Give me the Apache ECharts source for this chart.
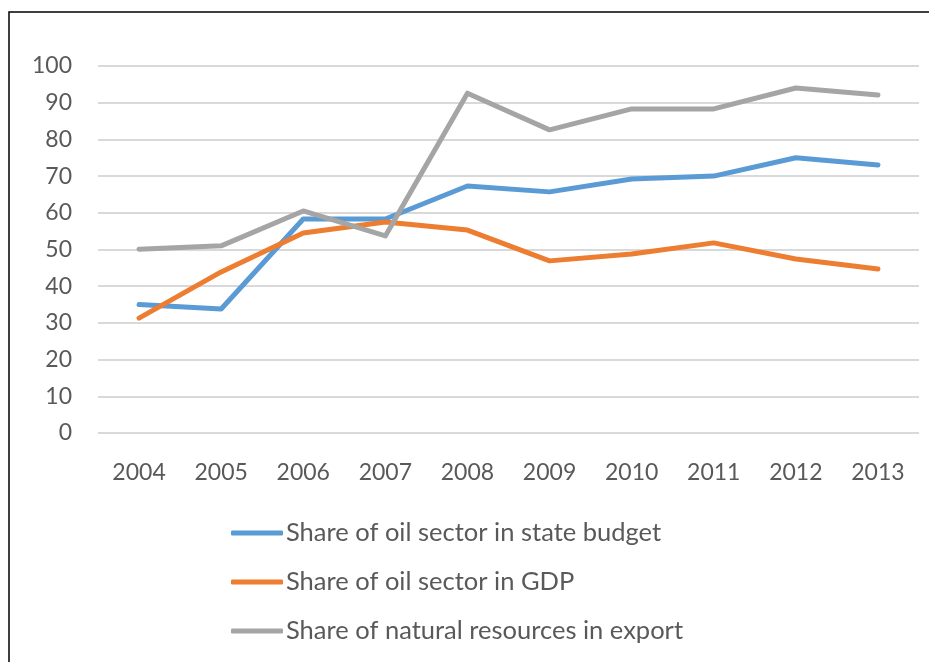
<!DOCTYPE html>
<html lang="en">
<head>
<meta charset="UTF-8">
<title>Oil sector shares</title>
<script src="https://cdn.jsdelivr.net/npm/echarts@6/dist/echarts.min.js"></script>
<style>
  html, body { margin: 0; padding: 0; background: #fff; }
  #chart { width: 929px; height: 662px; }
</style>
</head>
<body>
<div id="chart"></div>
<script>
const years = ['2004', '2005', '2006', '2007', '2008', '2009', '2010', '2011', '2012', '2013'];

const stateBudget = [35, 33.8, 58.3, 58.3, 67.3, 65.7, 69.2, 70, 75, 73];
const gdp = [31.3, 43.9, 54.5, 57.5, 55.3, 46.9, 48.8, 51.8, 47.4, 44.7];
const exportShare = [50.1, 51, 60.5, 53.7, 92.6, 82.6, 88.3, 88.3, 94, 92.1];

const names = [
  'Share of oil sector in state budget',
  'Share of oil sector in GDP',
  'Share of natural resources in export'
];
const colors = ['#5B9BD5', '#ED7D31', '#A5A5A5'];
const font = 'Lato, "Open Sans", sans-serif';

const chart = echarts.init(document.getElementById('chart'), null, { renderer: 'canvas' });

function line(name, data, color) {
  return {
    name: name,
    type: 'line',
    data: data,
    symbol: 'none',
    lineStyle: { color: color, width: 5, cap: 'round', join: 'round' },
    itemStyle: { color: color }
  };
}

chart.setOption({
  animation: false,
  color: colors,
  textStyle: { fontFamily: font },
  graphic: [{
    type: 'rect',
    shape: { x: 9, y: 12, width: 940, height: 700 },
    style: { fill: 'none', stroke: '#000', lineWidth: 1.5 },
    silent: true
  }],
  grid: { left: 98, right: 10, top: 66, bottom: 229 },
  xAxis: {
    type: 'category',
    data: years,
    axisLine: { show: false },
    axisTick: { show: false },
    axisLabel: { color: '#595959', fontSize: 23, fontFamily: font, margin: 28 }
  },
  yAxis: {
    type: 'value',
    min: 0,
    max: 100,
    interval: 10,
    axisLine: { show: false },
    axisTick: { show: false },
    splitLine: { lineStyle: { color: '#D9D9D9', width: 2 } },
    axisLabel: { color: '#595959', fontSize: 23, fontFamily: font, margin: 26 }
  },
  legend: {
    orient: 'vertical',
    left: 226,
    top: 515,
    itemGap: 23,
    itemWidth: 52,
    itemHeight: 5,
    icon: 'roundRect',
    textStyle: { color: '#595959', fontSize: 25.5, fontFamily: font, padding: [0, 0, 0, -2] },
    data: names
  },
  series: [
    line(names[0], stateBudget, colors[0]),
    line(names[1], gdp, colors[1]),
    line(names[2], exportShare, colors[2])
  ]
});
</script>
</body>
</html>
